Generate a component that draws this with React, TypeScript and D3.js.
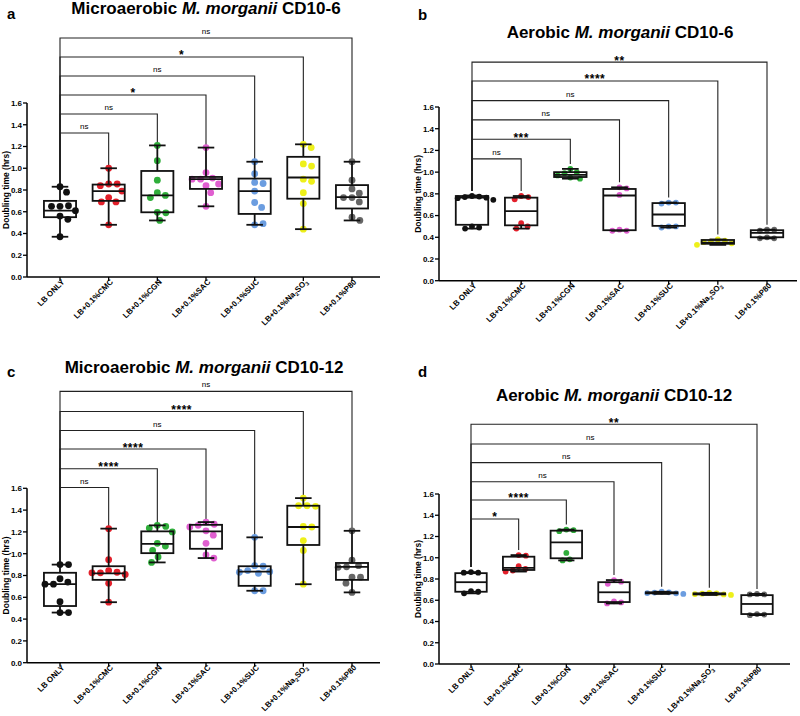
import React from "react";
import * as d3 from "d3";

const groups = ["LB ONLY", "LB+0.1%CMC", "LB+0.1%CGN", "LB+0.1%SAC", "LB+0.1%SUC", "LB+0.1%Na2SO3", "LB+0.1%P80"];
const groupColors = ["#111111", "#e3202b", "#2fae3a", "#e05fd0", "#6b9de0", "#eef01a", "#666666"];
const yTicks = [0, 0.2, 0.4, 0.6, 0.8, 1.0, 1.2, 1.4, 1.6];

// a: Microaerobic CD10-6
const aPoints = [
  [0.83, 0.78, 0.65, 0.655, 0.65, 0.61, 0.56, 0.53, 0.37],
  [1.0, 0.855, 0.855, 0.84, 0.79, 0.73, 0.69, 0.69, 0.48],
  [1.21, 1.07, 0.89, 0.775, 0.75, 0.73, 0.595, 0.59, 0.52],
  [1.19, 0.96, 0.91, 0.90, 0.90, 0.855, 0.84, 0.775, 0.65],
  [1.06, 0.95, 0.87, 0.86, 0.79, 0.685, 0.64, 0.48, 0.49],
  [1.22, 1.19, 1.04, 1.02, 0.90, 0.88, 0.775, 0.675, 0.44],
  [1.06, 0.89, 0.81, 0.77, 0.73, 0.73, 0.69, 0.55, 0.52],
];
// [min, q1, median, q3, max]
const aBoxes = [
  [0.37, 0.55, 0.61, 0.70, 0.83],
  [0.48, 0.70, 0.79, 0.85, 1.0],
  [0.52, 0.595, 0.75, 0.975, 1.21],
  [0.65, 0.81, 0.90, 0.92, 1.19],
  [0.48, 0.58, 0.79, 0.905, 1.06],
  [0.44, 0.72, 0.915, 1.105, 1.22],
  [0.52, 0.63, 0.735, 0.845, 1.06],
];
const aLevels = [1.324, 1.499, 1.674, 1.848, 2.023, 2.198];
const aSigns = ["ns", "ns", "*", "ns", "*", "ns"];

// b: Aerobic CD10-6
const bPoints = [
  [0.78, 0.775, 0.77, 0.765, 0.76, 0.745, 0.50, 0.49, 0.48],
  [0.78, 0.77, 0.75, 0.53, 0.50, 0.48],
  [1.03, 1.0, 0.99, 0.97, 0.95, 0.94],
  [0.86, 0.85, 0.79, 0.47, 0.46, 0.46],
  [0.72, 0.72, 0.71, 0.50, 0.50, 0.49],
  [0.38, 0.37, 0.36, 0.355, 0.345, 0.33],
  [0.47, 0.47, 0.46, 0.40, 0.39, 0.39],
];
const bBoxes = [
  [0.48, 0.515, 0.765, 0.78, 0.785],
  [0.48, 0.51, 0.64, 0.765, 0.78],
  [0.94, 0.955, 0.975, 1.0, 1.03],
  [0.46, 0.465, 0.785, 0.845, 0.86],
  [0.49, 0.505, 0.61, 0.715, 0.72],
  [0.33, 0.34, 0.35, 0.375, 0.38],
  [0.39, 0.40, 0.44, 0.465, 0.47],
];
const bLevels = [1.122, 1.303, 1.481, 1.659, 1.84, 2.013];
const bSigns = ["ns", "***", "ns", "ns", "****", "**"];

// c: Microaerobic CD10-12
const cPoints = [
  [0.90, 0.90, 0.77, 0.74, 0.72, 0.72, 0.56, 0.46, 0.46],
  [1.23, 0.945, 0.845, 0.83, 0.825, 0.825, 0.81, 0.73, 0.555],
  [1.26, 1.25, 1.235, 1.20, 1.095, 1.07, 1.03, 0.97, 0.92],
  [1.29, 1.27, 1.26, 1.245, 1.21, 1.17, 1.095, 0.99, 0.96],
  [1.15, 0.89, 0.885, 0.845, 0.835, 0.83, 0.82, 0.66, 0.66],
  [1.51, 1.44, 1.44, 1.435, 1.25, 1.245, 1.12, 1.03, 0.72],
  [1.21, 0.94, 0.89, 0.88, 0.875, 0.785, 0.785, 0.73, 0.645],
];
const cBoxes = [
  [0.46, 0.52, 0.72, 0.825, 0.90],
  [0.555, 0.76, 0.82, 0.885, 1.23],
  [0.92, 1.005, 1.09, 1.205, 1.26],
  [0.96, 1.045, 1.205, 1.265, 1.29],
  [0.66, 0.705, 0.835, 0.885, 1.15],
  [0.72, 1.08, 1.245, 1.44, 1.51],
  [0.645, 0.76, 0.88, 0.915, 1.21],
];
const cLevels = [1.607, 1.779, 1.96, 2.13, 2.305, 2.489];
const cSigns = ["ns", "****", "****", "ns", "****", "ns"];

// d: Aerobic CD10-12
const dPoints = [
  [0.865, 0.86, 0.86, 0.685, 0.68, 0.665],
  [1.025, 1.02, 0.92, 0.895, 0.88, 0.87],
  [1.265, 1.26, 1.25, 1.045, 0.985, 0.975],
  [0.79, 0.775, 0.755, 0.59, 0.58, 0.57],
  [0.68, 0.675, 0.672, 0.668, 0.665, 0.66],
  [0.67, 0.665, 0.662, 0.658, 0.655, 0.65],
  [0.66, 0.655, 0.655, 0.47, 0.465, 0.46],
];
const dBoxes = [
  [0.665, 0.68, 0.77, 0.855, 0.865],
  [0.87, 0.885, 0.905, 1.01, 1.025],
  [0.975, 0.995, 1.145, 1.255, 1.265],
  [0.57, 0.583, 0.675, 0.77, 0.79],
  [0.66, 0.665, 0.67, 0.675, 0.68],
  [0.65, 0.655, 0.66, 0.665, 0.67],
  [0.46, 0.47, 0.565, 0.648, 0.66],
];
const dLevels = [1.365, 1.544, 1.716, 1.895, 2.071, 2.256];
const dSigns = ["*", "****", "ns", "ns", "ns", "**"];

const FONT = "'Liberation Sans', Arial, sans-serif";

const panels = [
  {
    letter: "a", title: ["Microaerobic ", "M. morganii", " CD10-6"],
    points: aPoints, boxes: aBoxes, levels: aLevels, signs: aSigns,
    axisX: 27, xFirst: 60, xLast: 352, axisEnd: 380, y0: 277, yTop: 103,
    titleX: 206, titleY: 14, letterX: 7, letterY: 19, r: 3.4, gap: 2,
  },
  {
    letter: "b", title: ["Aerobic ", "M. morganii", " CD10-6"],
    points: bPoints, boxes: bBoxes, levels: bLevels, signs: bSigns,
    axisX: 439, xFirst: 472, xLast: 767, axisEnd: 797, y0: 280.7, yTop: 107,
    titleX: 620, titleY: 38, letterX: 418, letterY: 20, r: 2.9, gap: 5,
  },
  {
    letter: "c", title: ["Microaerobic ", "M. morganii", " CD10-12"],
    points: cPoints, boxes: cBoxes, levels: cLevels, signs: cSigns,
    axisX: 27, xFirst: 60, xLast: 352, axisEnd: 380, y0: 662.7, yTop: 488.3,
    titleX: 204, titleY: 373, letterX: 7, letterY: 377, r: 3.4, gap: 2,
  },
  {
    letter: "d", title: ["Aerobic ", "M. morganii", " CD10-12"],
    points: dPoints, boxes: dBoxes, levels: dLevels, signs: dSigns,
    axisX: 439, xFirst: 471, xLast: 757, axisEnd: 790, y0: 664, yTop: 494,
    titleX: 614, titleY: 401, letterX: 418, letterY: 377, r: 2.9, gap: 5,
  },
];

// simple beeswarm, like the prism scatter: spread points that would overlap
const swarm = (vals: number[], y: (v: number) => number, D: number) => {
  const placed: { x: number; y: number }[] = [];
  return vals.map(v => {
    const py = y(v);
    const cands = [0];
    placed.forEach(p => {
      const dy = Math.abs(p.y - py);
      if (dy < D) {
        const dx = Math.sqrt(D * D - dy * dy);
        cands.push(p.x + dx, p.x - dx);
      }
    });
    cands.sort((a, b) => Math.abs(a) - Math.abs(b) || b - a);
    const x = cands.find(c => placed.every(p => (p.x - c) ** 2 + (p.y - py) ** 2 >= D * D - 0.01)) ?? 0;
    placed.push({ x, y: py });
    return { x, y: py };
  });
};

const GroupLabel = (props: { name: string }) => {
  if (props.name.includes("Na2SO3")) {
    return (
      <>
        <tspan>LB+0.1%Na</tspan>
        <tspan fontSize="5.6" dy="2">2</tspan>
        <tspan dy="-2">SO</tspan>
        <tspan fontSize="5.6" dy="2">3</tspan>
      </>
    );
  }
  return <>{props.name}</>;
};

const Panel = (props: { p: typeof panels[0] }) => {
  const p = props.p;
  const y = d3.scaleLinear().domain([0, 1.6]).range([p.y0, p.yTop]);
  const x = d3.scalePoint<string>().domain(groups).range([p.xFirst, p.xLast]);
  const step = x.step();
  const boxW = step * 0.66;
  const capW = step * 0.34;
  const fmt = d3.format(".1f");
  const lbMax = d3.max(p.points[0]) as number;

  return (
    <g fontFamily={FONT}>
      <text x={p.letterX} y={p.letterY} fontSize={15} fontWeight="bold">{p.letter}</text>
      <text x={p.titleX} y={p.titleY} fontSize={17} fontWeight="bold" textAnchor="middle">
        <tspan>{p.title[0]}</tspan>
        <tspan fontStyle="italic">{p.title[1]}</tspan>
        <tspan>{p.title[2]}</tspan>
      </text>

      {/* axes */}
      <line x1={p.axisX} x2={p.axisX} y1={y(0)} y2={y(1.6)} stroke="#000" strokeWidth={1.5} />
      <line x1={p.axisX} x2={p.axisEnd} y1={y(0)} y2={y(0)} stroke="#000" strokeWidth={1.5} />
      {yTicks.map(t => (
        <g key={t}>
          <line x1={p.axisX - 4} x2={p.axisX} y1={y(t)} y2={y(t)} stroke="#000" strokeWidth={1.3} />
          <text x={p.axisX - 5} y={y(t)} dy="0.35em" fontSize={8} fontWeight="bold" textAnchor="end">{fmt(t)}</text>
        </g>
      ))}
      <text
        transform={`translate(${p.axisX - 18.5},${(y(0) + y(1.6)) / 2}) rotate(-90)`}
        fontSize={8.5} fontWeight="bold" textAnchor="middle">Doubling time (hrs)</text>
      {groups.map(g => (
        <g key={g}>
          <line x1={x(g)} x2={x(g)} y1={y(0)} y2={y(0) + 4} stroke="#000" strokeWidth={1.3} />
          <text
            transform={`translate(${(x(g) as number) + 5},${y(0) + 5.5}) rotate(-45)`}
            fontSize={8} fontWeight="bold" textAnchor="end">
            <GroupLabel name={g} />
          </text>
        </g>
      ))}

      {/* significance brackets */}
      {p.levels.map((lv, i) => {
        const target = groups[i + 1];
        const tx = x(target) as number;
        const lx = x(groups[0]) as number;
        const ly = y(lv);
        const tMax = d3.max(p.points[i + 1]) as number;
        const isNs = p.signs[i] === "ns";
        return (
          <g key={i}>
            <path
              d={`M${lx},${y(lbMax) - p.gap}V${ly}H${tx}V${y(tMax) - p.gap}`}
              fill="none" stroke="#222" strokeWidth={1.1} />
            <text x={(lx + tx) / 2} y={isNs ? ly - 4 : ly + 2.5}
              fontSize={isNs ? 8 : 12} fontWeight={isNs ? "normal" : "bold"} textAnchor="middle"
              letterSpacing={isNs ? 0 : 0.5}>
              {p.signs[i]}
            </text>
          </g>
        );
      })}

      {/* dots then boxes */}
      {groups.map((g, gi) => {
        const cx = x(g) as number;
        const pts = swarm(p.points[gi], y, p.r * 2.5);
        const [mn, q1, md, q3, mx] = p.boxes[gi];
        return (
          <g key={g}>
            {pts.map((pt, k) => (
              <circle key={k} cx={cx + pt.x} cy={pt.y} r={p.r} fill={groupColors[gi]} />
            ))}
            <g stroke="#111" strokeWidth={1.8} fill="none">
              <line x1={cx} x2={cx} y1={y(q3)} y2={y(mx)} />
              <line x1={cx} x2={cx} y1={y(q1)} y2={y(mn)} />
              <line x1={cx - capW / 2} x2={cx + capW / 2} y1={y(mx)} y2={y(mx)} />
              <line x1={cx - capW / 2} x2={cx + capW / 2} y1={y(mn)} y2={y(mn)} />
              <rect x={cx - boxW / 2} y={y(q3)} width={boxW} height={Math.max(0.5, y(q1) - y(q3))} />
              <line x1={cx - boxW / 2} x2={cx + boxW / 2} y1={y(md)} y2={y(md)} />
            </g>
          </g>
        );
      })}
    </g>
  );
};

const App = () => {
  return (
    <svg width={800} height={716} style={{ position: "absolute", left: 0, top: 0, background: "#fff" }}>
      <rect width={800} height={716} fill="#fff" />
      {panels.map(p => <Panel key={p.letter} p={p} />)}
    </svg>
  );
};

export default App;
